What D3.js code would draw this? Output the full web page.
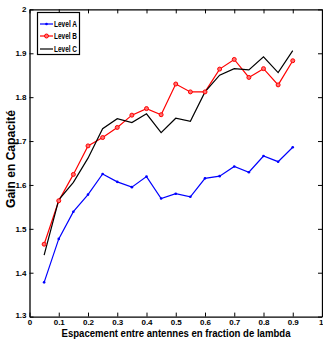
<!DOCTYPE html>
<html><head><meta charset="utf-8">
<script src="https://cdn.jsdelivr.net/npm/d3@7"></script>
<style>body{margin:0;background:#fff}svg{display:block}text{font-family:"Liberation Sans",Arial,sans-serif;font-weight:bold}</style>
</head><body><svg id="c" width="323" height="342"></svg>
<script>
const xValues = [0.05,0.1,0.15,0.2,0.25,0.3,0.35,0.4,0.45,0.5,0.55,0.6,0.65,0.7,0.75,0.8,0.85,0.9];
const levelA = [1.378,1.477,1.539,1.578,1.625,1.607,1.595,1.619,1.569,1.580,1.573,1.615,1.620,1.642,1.629,1.666,1.653,1.686];
const levelB = [1.465,1.564,1.624,1.689,1.708,1.731,1.759,1.774,1.760,1.830,1.812,1.812,1.864,1.886,1.845,1.865,1.828,1.883];
const levelC = [1.440,1.566,1.606,1.661,1.728,1.751,1.742,1.762,1.719,1.752,1.745,1.812,1.850,1.865,1.862,1.892,1.856,1.906];
const xTicks = [0,0.1,0.2,0.3,0.4,0.5,0.6,0.7,0.8,0.9,1];
const yTicks = [1.3,1.4,1.5,1.6,1.7,1.8,1.9,2];
const seriesNames = ["Level A","Level B","Level C"];
const colors = ["#0000ff","#ff0000","#000000"];

const svg = d3.select("#c");
const L=29.5,R=322,T=9.4,B=316.6;
const x = d3.scaleLinear().domain([0,1]).range([L,R]);
const y = d3.scaleLinear().domain([1.3,2]).range([B,T]);
const fmt = d => d===0||d===1||d===2 ? String(d) : d3.format(".1f")(d);

const gB = svg.append("g").attr("transform",`translate(0,${B})`).call(d3.axisBottom(x).tickValues(xTicks).tickFormat(fmt).tickSizeInner(-4).tickSizeOuter(0).tickPadding(4));
const gT = svg.append("g").attr("transform",`translate(0,${T})`).call(d3.axisTop(x).tickValues(xTicks).tickFormat("").tickSizeInner(-4).tickSizeOuter(0));
const gL = svg.append("g").attr("transform",`translate(${L},0)`).call(d3.axisLeft(y).tickValues(yTicks).tickFormat(fmt).tickSizeInner(-4).tickSizeOuter(0).tickPadding(3));
const gR = svg.append("g").attr("transform",`translate(${R},0)`).call(d3.axisRight(y).tickValues(yTicks).tickFormat("").tickSizeInner(-4).tickSizeOuter(0));
[gB,gT,gL,gR].forEach(g=>{g.select(".domain").attr("stroke","#000").attr("stroke-width",1.3);g.selectAll(".tick line").attr("stroke","#000");g.selectAll("text").attr("font-size",8).attr("fill","#000").style("font-family","'Liberation Sans',Arial,sans-serif").style("font-weight","bold");});
gB.selectAll(".tick text").attr("dy","0.55em").filter(d=>d===1).attr("text-anchor","end").attr("dx","1");
gL.selectAll(".tick text").filter(d=>d===1.3).attr("dy","0.1em");

const data=[levelA,levelB,levelC];
const line = d3.line().x((d,i)=>x(xValues[i])).y(d=>y(d));
data.forEach((s,k)=>{
  svg.append("path").datum(s).attr("d",line).attr("fill","none").attr("stroke",colors[k]).attr("stroke-width",1.2);
});
svg.append("g").selectAll("circle").data(levelA).join("circle").attr("cx",(d,i)=>x(xValues[i])).attr("cy",d=>y(d)).attr("r",1.3).attr("fill","#0000ff");
svg.append("g").selectAll("circle").data(levelB).join("circle").attr("cx",(d,i)=>x(xValues[i])).attr("cy",d=>y(d)).attr("r",2).attr("fill","#ff7070").attr("stroke","#ff0000").attr("stroke-width",1);

const lg = svg.append("g");
lg.append("rect").attr("x",37.5).attr("y",12.5).attr("width",42).attr("height",42).attr("fill","#fff").attr("stroke","#000").attr("stroke-width",1.2);
const ly=[24,36,49];
seriesNames.forEach((n,k)=>{
  lg.append("line").attr("x1",40).attr("x2",53).attr("y1",ly[k]).attr("y2",ly[k]).attr("stroke",colors[k]).attr("stroke-width",1.2);
  if(k===0) lg.append("circle").attr("cx",46.5).attr("cy",ly[k]).attr("r",1.3).attr("fill",colors[k]);
  if(k===1) lg.append("circle").attr("cx",46.5).attr("cy",ly[k]).attr("r",2).attr("fill","#ff7070").attr("stroke","#ff0000");
  lg.append("text").attr("x",54).attr("y",ly[k]).attr("dy","0.35em").attr("font-size",9).attr("textLength",23).attr("lengthAdjust","spacingAndGlyphs").text(n);
});

svg.append("text").attr("x",176).attr("y",337).attr("text-anchor","middle").attr("font-size",11.5).attr("textLength",229).attr("lengthAdjust","spacingAndGlyphs").text("Espacement entre antennes en fraction de lambda");
svg.append("text").attr("transform",`translate(14.5,159) rotate(-90)`).attr("text-anchor","middle").attr("font-size",12.5).attr("textLength",98).attr("lengthAdjust","spacingAndGlyphs").text("Gain en Capacité");
</script></body></html>
